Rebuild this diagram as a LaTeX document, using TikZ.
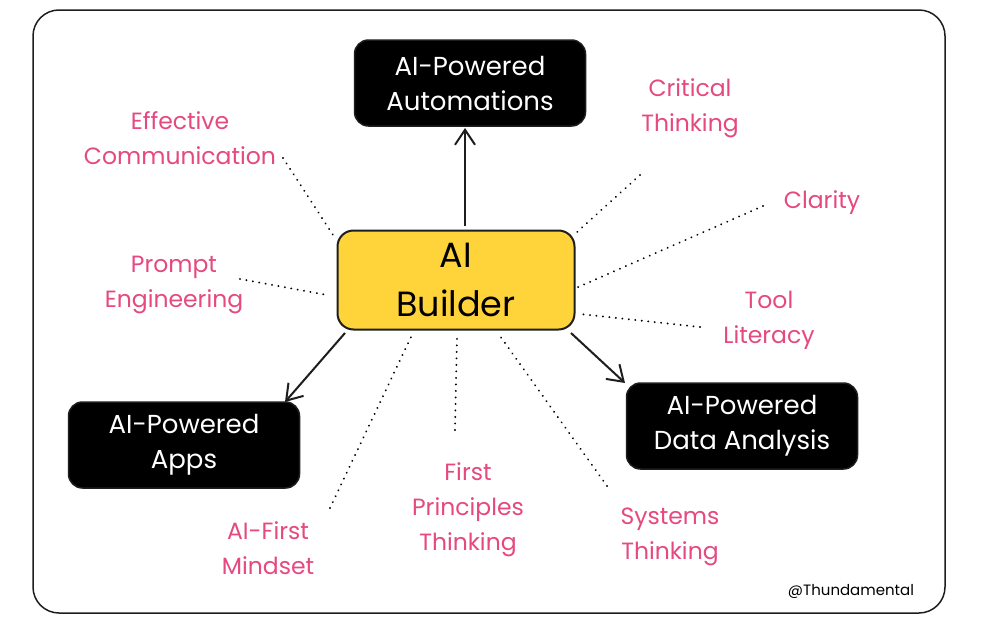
\documentclass[tikz,border=0pt]{standalone}
\usepackage{fontspec}
\setmainfont{Poppins}
\usetikzlibrary{arrows.meta}
\definecolor{pinklbl}{HTML}{E64980}
\definecolor{ybox}{HTML}{FFD43B}
\definecolor{ink}{HTML}{1E1E1E}
\tikzset{
  x=1pt, y=-1pt,
  skill/.style={text=pinklbl, align=center, font=\fontsize{23.5}{35}\selectfont},
  outbox/.style={fill=black, draw=ink, line width=1.5pt, rounded corners=14pt, text=white, align=center, font=\fontsize{26}{35}\selectfont, minimum width=231pt, minimum height=86pt, inner sep=0pt},
  hub/.style={fill=ybox, draw=ink, line width=2pt, rounded corners=16pt, text=black, align=center, font=\fontsize{35}{49}\selectfont, minimum width=237pt, minimum height=99pt, inner sep=0pt},
  dotline/.style={draw=black, line width=2.1pt, dash pattern=on 0.01pt off 6.5pt, line cap=round},
  arr/.style={draw=ink, line width=2pt, -{Straight Barb[length=15pt,width=20pt,line width=2pt]}},
}
\begin{document}
\begin{tikzpicture}
\useasboundingbox (0,0) rectangle (1007,624);
\fill[white] (0,0) rectangle (1007,624);
\draw[ink, line width=1.5pt, rounded corners=26pt] (33,10) rectangle (945,613);

\node[hub] (hub) at (456,280) {AI\\Builder};
\node[outbox] (auto) at (470,83) {AI-Powered\\Automations};
\node[outbox] (apps) at (184,445) {AI-Powered\\Apps};
\node[outbox] (data) at (742,426) {AI-Powered\\Data Analysis};

\node[skill] (comm) at (180,138) {Effective\\Communication};
\node[skill] (crit) at (690,108) {Critical\\Thinking};
\node[skill] (clar) at (822,203) {Clarity};
\node[skill] (prompt) at (174,285) {Prompt\\Engineering};
\node[skill] (tool) at (769,320) {Tool\\Literacy};
\node[skill] (first) at (468,510) {First\\Principles\\Thinking};
\node[skill] (mind) at (268,548) {AI-First\\Mindset};
\node[skill] (sys) at (670,537) {Systems\\Thinking};

\node[text=black, font=\fontsize{15}{16}\selectfont] (sig) at (851,591) {@Thundamental};

% dotted connector ends
\coordinate (c1a) at (283,158); \coordinate (c1b) at (335,238);
\coordinate (c2a) at (640,175); \coordinate (c2b) at (576,233);
\coordinate (c3a) at (763,206); \coordinate (c3b) at (576,288);
\coordinate (c4a) at (240,279); \coordinate (c4b) at (327,295);
\coordinate (c5a) at (700,327); \coordinate (c5b) at (580,314);
\coordinate (c6a) at (330,508); \coordinate (c6b) at (411,337);
\coordinate (c7a) at (455,430); \coordinate (c7b) at (457,336);
\coordinate (c8a) at (607,486); \coordinate (c8b) at (500,336);

\draw[dotline] (c1a) -- (c1b);
\draw[dotline] (c2a) -- (c2b);
\draw[dotline] (c3a) -- (c3b);
\draw[dotline] (c4a) -- (c4b);
\draw[dotline] (c5a) -- (c5b);
\draw[dotline] (c6a) -- (c6b);
\draw[dotline] (c7a) -- (c7b);
\draw[dotline] (c8a) -- (c8b);

\coordinate (a1s) at (465,226); \coordinate (a1e) at (465,128);
\coordinate (a2s) at (345,333); \coordinate (a2e) at (285,402);
\coordinate (a3s) at (571,333); \coordinate (a3e) at (625,383);
\draw[arr] (a1s) -- (a1e);
\draw[arr] (a2s) -- (a2e);
\draw[arr] (a3s) -- (a3e);
\end{tikzpicture}
\end{document}
